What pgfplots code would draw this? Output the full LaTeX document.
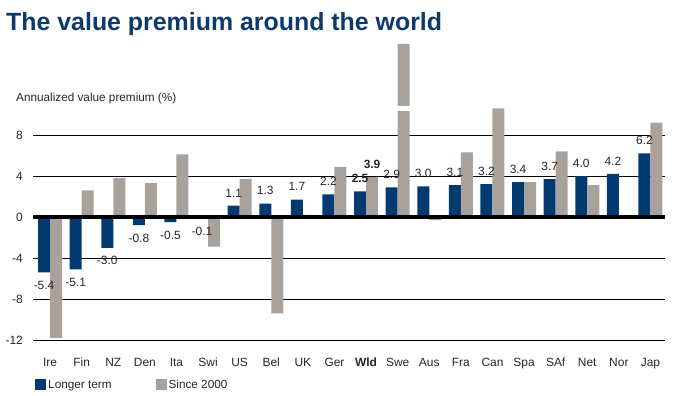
\documentclass[border=0pt]{standalone}
\usepackage{fontspec}
\setmainfont{Liberation Sans}
\usepackage{pgfplots}
\usepackage{pgfplotstable}
\pgfplotsset{compat=1.18}
\definecolor{navy}{HTML}{003A70}
\definecolor{warmgray}{HTML}{A9A19B}
\definecolor{titleblue}{HTML}{0B3A6B}
\definecolor{txt}{HTML}{262626}
\pgfplotstableread{
x lt sn
0 -5.4 -11.8
1 -5.1 2.6
2 -3.0 3.8
3 -0.8 3.3
4 -0.5 6.1
5 -0.1 -2.9
6 1.1 3.7
7 1.3 -9.4
8 1.7 0.2
9 2.2 4.9
10 2.5 3.9
11 2.9 16.9
12 3.0 -0.3
13 3.1 6.3
14 3.2 10.6
15 3.4 3.4
16 3.7 6.4
17 4.0 3.1
18 4.2 0.15
19 6.2 9.2
}\datatable
\pgfplotstableread{
x y lab
0 -5.4 -5.4
1 -5.1 -5.1
2 -3.0 -3.0
3 -0.8 -0.8
4 -0.5 -0.5
5 -0.1 -0.1
}\neglabels
\pgfplotstableread{
x y lab
6 1.1 1.1
7 1.3 1.3
8 1.7 1.7
9 2.2 2.2
10 2.5 \textbf{2.5}
11 2.9 2.9
12 3.0 3.0
13 3.1 3.1
14 3.2 3.2
15 3.4 3.4
16 3.7 3.7
17 4.0 4.0
18 4.2 4.2
19 6.2 6.2
}\poslabels
\begin{document}
\begin{tikzpicture}
\useasboundingbox (0,0) rectangle (675bp,-396bp);
\node[anchor=base west, inner sep=0pt, font=\fontsize{25}{30}\selectfont\bfseries, text=titleblue] at (6bp,-30bp) {The value premium around the world};
\node[anchor=base west, inner sep=0pt, font=\fontsize{11.8}{14}\selectfont, text=txt] at (16bp,-101bp) {Annualized value premium (\%)};
\begin{axis}[
  at={(33bp,-340bp)}, anchor=south west,
  scale only axis, width=632bp, height=299.3bp,
  xmin=-0.54, xmax=19.46, ymin=-12, ymax=17.2,
  axis line style={draw=none},
  major tick length=0pt,
  ytick={-12,-8,-4,0,4,8}, yticklabels={-12,-8,-4,0,4,8},
  ymajorgrids, grid style={black, line width=0.8bp},
  xtick={0,...,19},
  xticklabels={Ire,Fin,NZ,Den,Ita,Swi,US,Bel,UK,Ger,\textbf{Wld},Swe,Aus,Fra,Can,Spa,SAf,Net,Nor,Jap},
  tick label style={font=\fontsize{12}{14}\selectfont, text=txt},
  yticklabel style={anchor=east, inner sep=0pt, xshift=-10bp},
  xticklabel style={anchor=base, inner sep=0pt, yshift=-26bp},
  legend style={at={(0.0032,-0.150)}, anchor=west, draw=none, fill=none, inner sep=0pt,
    legend columns=2, font=\fontsize{11.8}{14}\selectfont, text=txt,
    /tikz/every even column/.append style={column sep=42bp}},
  legend image code/.code={\fill[#1] (0bp,-5.5bp) rectangle (11bp,5.5bp);},
  clip=false,
]
\addplot[ybar, bar width=12bp, bar shift=-6bp, fill=navy, draw=none]
  table[x=x, y=lt]{\datatable};
\addlegendentry{Longer term}
\addplot[sharp plot, draw=none, mark=none, forget plot,
  nodes near coords, point meta=explicit symbolic,
  every node near coord/.append style={anchor=north, xshift=-6bp, font=\fontsize{12}{14}\selectfont, inner sep=8.5bp, text=txt}]
  table[x=x, y=y, meta=lab]{\neglabels};
\addplot[sharp plot, draw=none, mark=none, forget plot,
  nodes near coords, point meta=explicit symbolic,
  every node near coord/.append style={anchor=south, xshift=-6bp, font=\fontsize{12}{14}\selectfont, inner sep=8.5bp, text=txt}]
  table[x=x, y=y, meta=lab]{\poslabels};
\addplot[ybar, bar width=12bp, bar shift=6bp, fill=warmgray, draw=none]
  table[x=x, y=sn]{\datatable};
\addlegendentry{Since 2000}
\addplot[sharp plot, white, line width=5bp, forget plot] coordinates {(10.98,10.58) (11.42,10.58)};
\addplot[sharp plot, black, line width=3.5bp, forget plot] coordinates {(-0.54,0) (19.46,0)};
\node[anchor=south, inner sep=8.5bp, font=\fontsize{12}{14}\selectfont\bfseries, text=txt] at (axis cs:10.19,3.9) {3.9};
\end{axis}
\end{tikzpicture}
\end{document}
